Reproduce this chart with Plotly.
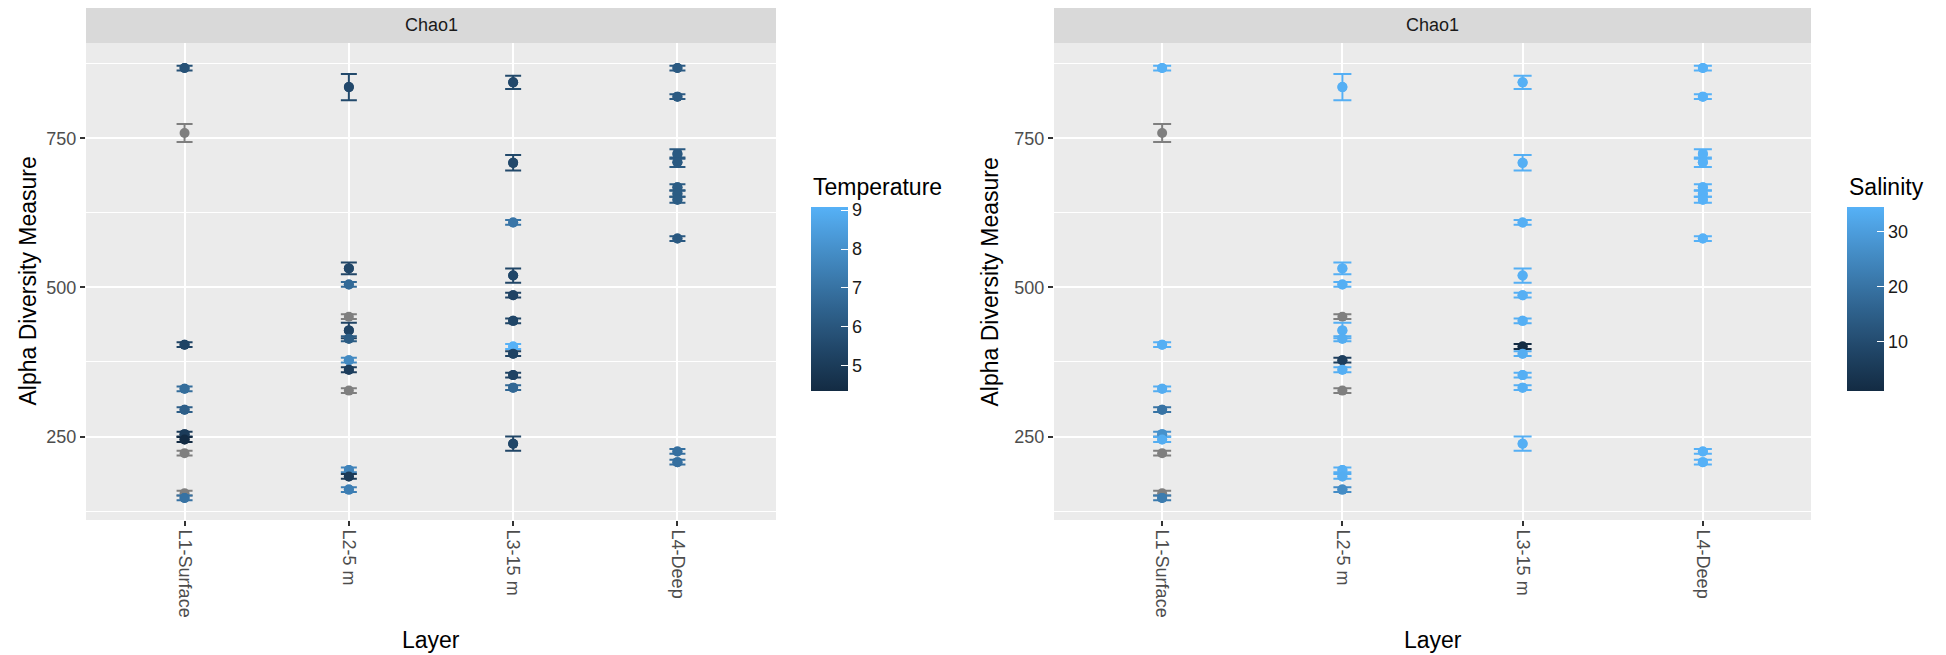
import plotly.graph_objects as go

W, H = 1946, 655
OFF = 8  # page body margin that the browser adds around the plot div
FW, FH = W - OFF, H - OFF

# ---------------- data ----------------
layers = ["L1-Surface", "L2-5 m", "L3-15 m", "L4-Deep"]

sample_layer = (["L1-Surface"] * 10 + ["L2-5 m"] * 12 +
                ["L3-15 m"] * 11 + ["L4-Deep"] * 10)
chao1 = [868, 759, 404, 330, 295, 254, 245, 222, 155, 147,
         836, 532, 505, 451, 428, 414, 378, 362, 327, 194, 183, 161,
         844, 709, 609, 520, 487, 444, 401, 389, 353, 332, 238,
         868, 820, 724, 710, 668, 657, 647, 582, 225, 207]
chao1_se = [4, 15, 4, 4, 4, 4, 4, 4, 4, 4,
            22, 10, 4, 4, 13, 4, 4, 4, 4, 4, 4, 4,
            11, 13, 4, 12, 4, 4, 4, 4, 4, 4, 12,
            4, 4, 8, 8, 5, 5, 5, 4, 4, 4]
temperature = [5.8, None, 5.3, 6.8, 6.3, 5.0, 4.35, None, None, 7.0,
               5.5, 5.4, 6.7, None, 5.3, 6.2, 7.8, 5.1, None, 7.6, 5.0, 7.4,
               5.5, 5.5, 7.1, 5.4, 5.3, 5.4, 9.08, 5.3, 5.3, 6.6, 5.4,
               6.15, 6.15, 6.1, 6.1, 6.2, 6.2, 6.2, 6.1, 6.9, 6.9]
salinity = [34.2, None, 34.0, 33.5, 20.0, 27.0, 33.5, None, None, 22.0,
            34.0, 34.0, 34.0, None, 33.8, 33.5, 6.5, 33.8, None, 34.0, 33.5, 26.0,
            34.2, 34.0, 34.0, 34.0, 34.0, 34.0, 1.1, 33.5, 34.0, 34.0, 34.0,
            34.5, 34.5, 34.5, 34.5, 34.5, 34.5, 34.5, 34.5, 34.5, 34.5]

temp_ticks = [5, 6, 7, 8, 9]
sal_ticks = [10, 20, 30]
y_ticks = [250, 500, 750]
y_minor = [125, 375, 625, 875]

LOW, HIGH, NA_COL = "#132B43", "#56B1F7", "#7F7F7F"


# ---------- Lab interpolation like ggplot's seq_gradient_pal ----------
def _hex2rgb(h):
    h = h.lstrip("#")
    return [int(h[i:i + 2], 16) / 255 for i in (0, 2, 4)]


def _lin(c):
    return c / 12.92 if c <= 0.04045 else ((c + 0.055) / 1.055) ** 2.4


def _unlin(c):
    c = 12.92 * c if c <= 0.0031308 else 1.055 * c ** (1 / 2.4) - 0.055
    return min(1, max(0, c))


WP = (0.95047, 1.0, 1.08883)


def _rgb2lab(rgb):
    r, g, b = [_lin(c) for c in rgb]
    X = 0.4124 * r + 0.3576 * g + 0.1805 * b
    Y = 0.2126 * r + 0.7152 * g + 0.0722 * b
    Z = 0.0193 * r + 0.1192 * g + 0.9505 * b
    f = lambda t: t ** (1 / 3) if t > 0.008856 else 7.787 * t + 16 / 116
    fx, fy, fz = f(X / WP[0]), f(Y / WP[1]), f(Z / WP[2])
    return (116 * fy - 16, 500 * (fx - fy), 200 * (fy - fz))


def _lab2hex(lab):
    L, a, b = lab
    fy = (L + 16) / 116
    fx = fy + a / 500
    fz = fy - b / 200
    finv = lambda t: t ** 3 if t ** 3 > 0.008856 else (t - 16 / 116) / 7.787
    X, Y, Z = finv(fx) * WP[0], finv(fy) * WP[1], finv(fz) * WP[2]
    r = 3.2406 * X - 1.5372 * Y - 0.4986 * Z
    g = -0.9689 * X + 1.8758 * Y + 0.0415 * Z
    bb = 0.0557 * X - 0.2040 * Y + 1.0570 * Z
    return "#%02x%02x%02x" % tuple(round(_unlin(c) * 255) for c in (r, g, bb))


LAB_LO, LAB_HI = _rgb2lab(_hex2rgb(LOW)), _rgb2lab(_hex2rgb(HIGH))


def grad(t):
    return _lab2hex(tuple(LAB_LO[i] + (LAB_HI[i] - LAB_LO[i]) * t for i in range(3)))


colorscale = [[i / 20, grad(i / 20)] for i in range(21)]

FONT = "Liberation Sans, Arial, Helvetica, sans-serif"


def px(x):
    return (x - OFF) / FW


def py(y):
    return 1 - (y - OFF) / FH


fig = go.Figure()

panels = [
    dict(xa="x", ya="y", var=temperature, ticks=temp_ticks, name="Temperature",
         dom=(86, 776), cb_x=811, cap=8, ytitle_x=27),
    dict(xa="x2", ya="y2", var=salinity, ticks=sal_ticks, name="Salinity",
         dom=(1054, 1811), cb_x=1847, cap=9, ytitle_x=989),
]
TOP, BOT, STRIP_TOP = 43, 520, 7

for p in panels:
    vals = [v for v in p["var"] if v is not None]
    vmin, vmax = min(vals), max(vals)
    xs, ys, cs = [], [], []
    for lay, c, se, v in zip(sample_layer, chao1, chao1_se, p["var"]):
        col = NA_COL if v is None else grad((v - vmin) / (vmax - vmin))
        fig.add_trace(go.Scatter(
            x=[lay], y=[c], mode="markers", xaxis=p["xa"], yaxis=p["ya"],
            marker=dict(color=col, size=10, line=dict(width=0)),
            error_y=dict(type="data", array=[se], visible=True, color=col,
                         thickness=2, width=p["cap"]),
            showlegend=False, hoverinfo="skip"))
        if v is not None:
            xs.append(lay)
            ys.append(c)
            cs.append(v)
    fig.add_trace(go.Scatter(
        x=xs, y=ys, mode="markers", xaxis=p["xa"], yaxis=p["ya"],
        marker=dict(color=cs, colorscale=colorscale, cmin=vmin, cmax=vmax,
                    size=10, line=dict(width=0), showscale=True,
                    colorbar=dict(
                        x=px(p["cb_x"]), xanchor="left", xpad=0,
                        y=py(207), yanchor="top", ypad=0,
                        len=184, lenmode="pixels", thickness=37,
                        thicknessmode="pixels", outlinewidth=0,
                        tickvals=p["ticks"], ticks="inside", ticklen=7,
                        tickcolor="white", tickwidth=1,
                        tickfont=dict(family=FONT, size=18, color="#1A1A1A"))),
        showlegend=False, hoverinfo="skip"))

    x0, x1 = p["dom"]
    # strip
    fig.add_shape(type="rect", xref="paper", yref="paper",
                  x0=px(x0), x1=px(x1), y0=py(TOP), y1=py(STRIP_TOP),
                  fillcolor="#D9D9D9", line=dict(width=0), layer="below")
    fig.add_annotation(text="Chao1", xref="paper", yref="paper",
                       x=px((x0 + x1) / 2), y=py((TOP + STRIP_TOP) / 2),
                       xanchor="center", yanchor="middle",
                       showarrow=False, font=dict(family=FONT, size=18, color="#1A1A1A"))
    fig.add_annotation(text="Layer", xref="paper", yref="paper",
                       x=px((x0 + x1) / 2), y=py(640),
                       xanchor="center", yanchor="middle",
                       showarrow=False, font=dict(family=FONT, size=23, color="black"))
    fig.add_annotation(text="Alpha Diversity Measure", xref="paper", yref="paper",
                       x=px(p["ytitle_x"]), y=py((TOP + BOT) / 2), textangle=-90,
                       xanchor="center", yanchor="middle",
                       showarrow=False, font=dict(family=FONT, size=23, color="black"))
    fig.add_annotation(text=p["name"], xref="paper", yref="paper",
                       x=px(p["cb_x"]), xanchor="left", y=py(202), yanchor="bottom",
                       showarrow=False, font=dict(family=FONT, size=23, color="black"))

axis_common = dict(showline=False, zeroline=False, gridcolor="white",
                   ticks="outside", ticklen=5, tickwidth=2, tickcolor="#333333",
                   tickfont=dict(family=FONT, size=18, color="#4D4D4D"),
                   automargin=False)

for i, p in enumerate(panels):
    sfx = "" if i == 0 else str(i + 1)
    x0, x1 = p["dom"]
    fig.update_layout(**{
        "xaxis" + sfx: dict(axis_common, domain=[px(x0), px(x1)], type="category",
                            categoryorder="array", categoryarray=layers,
                            range=[-0.6, 3.6], gridwidth=2, tickangle=90,
                            anchor="y" + sfx),
        "yaxis" + sfx: dict(axis_common, domain=[py(BOT), py(TOP)], range=[110, 910],
                            tickvals=y_ticks, gridwidth=2, anchor="x" + sfx,
                            minor=dict(tickvals=y_minor, showgrid=True,
                                       gridcolor="white", gridwidth=1, ticks="")),
    })

fig.update_layout(width=FW, height=FH, margin=dict(l=0, r=0, t=0, b=0),
                  paper_bgcolor="white", plot_bgcolor="#EBEBEB",
                  font=dict(family=FONT), showlegend=False)

fig.write_html("out.html")
